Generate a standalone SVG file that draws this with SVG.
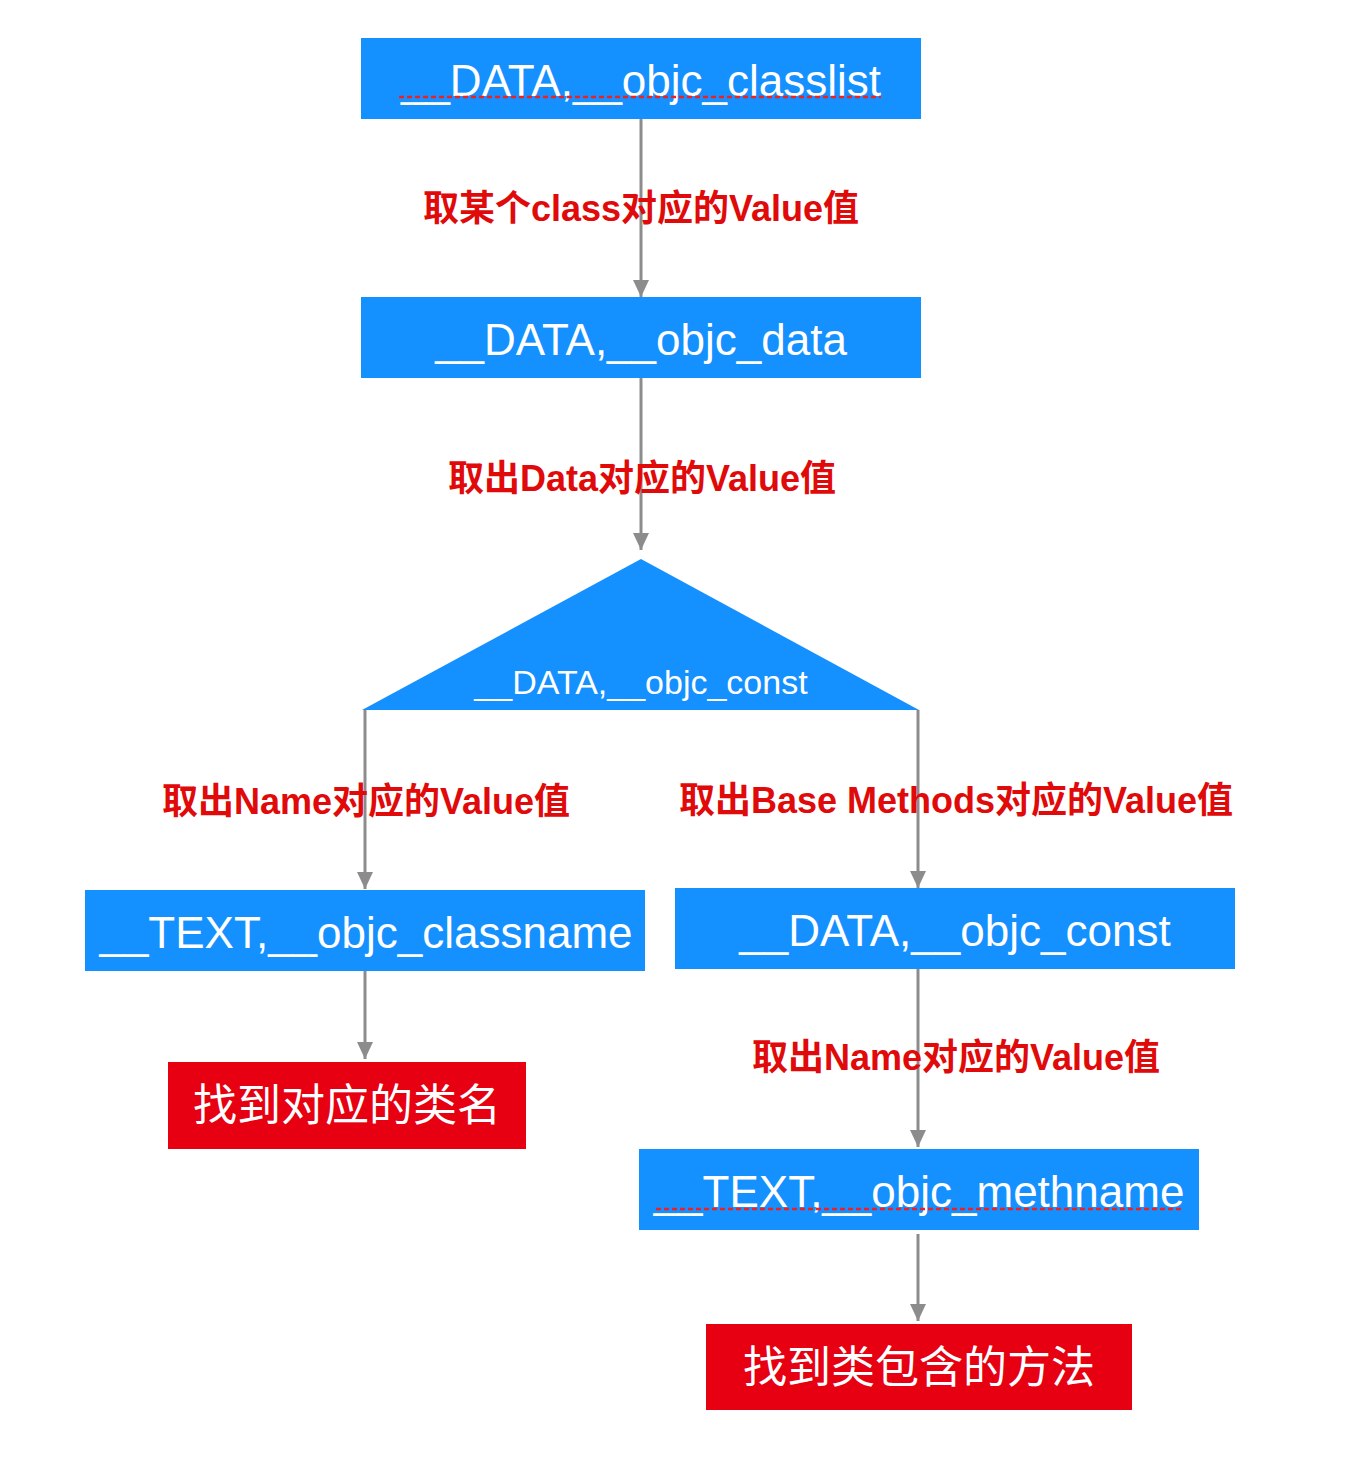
<svg xmlns="http://www.w3.org/2000/svg" width="1346" height="1466" viewBox="0 0 1346 1466">
<style>
.box{fill:#1590FF}
.red{fill:#E60012}
.bt{fill:#fff;font-family:"Liberation Sans",Arial,sans-serif;font-size:44px;text-anchor:middle}
.rt{fill:#fff;font-family:"Noto Sans CJK SC",sans-serif;font-size:44px;text-anchor:middle}
.lbl{fill:#E00A0A;font-family:"Liberation Sans","Noto Sans CJK SC",sans-serif;font-weight:bold;font-size:36px;text-anchor:middle}
.conn line{stroke:#8C8C8C;stroke-width:3;fill:none}
.spell{stroke:#F02020;stroke-width:2.5;stroke-dasharray:5 3}
</style>
<defs>
<marker id="arr" markerUnits="userSpaceOnUse" markerWidth="18" markerHeight="16" refX="17" refY="8" orient="auto" viewBox="0 0 18 16">
<path d="M0,0 L17,8 L0,16 Z" fill="#8C8C8C"/>
</marker>
</defs>
<g class="conn" id="connectors">
<line x1="641" y1="119" x2="641" y2="297" marker-end="url(#arr)"/>
<line x1="641" y1="378" x2="641" y2="550" marker-end="url(#arr)"/>
<line x1="365" y1="710" x2="365" y2="889" marker-end="url(#arr)"/>
<line x1="918" y1="710" x2="918" y2="888" marker-end="url(#arr)"/>
<line x1="365" y1="971" x2="365" y2="1059" marker-end="url(#arr)"/>
<line x1="918" y1="969" x2="918" y2="1147" marker-end="url(#arr)"/>
<line x1="918" y1="1234" x2="918" y2="1321" marker-end="url(#arr)"/>
</g>
<g id="labels">
<text class="lbl" x="641" y="221">取某个class对应的Value值</text>
<text class="lbl" x="642" y="491">取出Data对应的Value值</text>
<text class="lbl" x="366" y="814">取出Name对应的Value值</text>
<text class="lbl" x="956" y="813">取出Base Methods对应的Value值</text>
<text class="lbl" x="956" y="1070">取出Name对应的Value值</text>
</g>
<g id="n1">
<rect class="box" x="361" y="38" width="560" height="81"/>
<text class="bt" x="641" y="96">__DATA,__objc_classlist</text>
<line class="spell" x1="399" y1="97" x2="881" y2="97"/>
</g>
<g id="n2">
<rect class="box" x="361" y="297" width="560" height="81"/>
<text class="bt" x="641" y="355">__DATA,__objc_data</text>
</g>
<g id="n3">
<polygon class="box" points="641,559 919,710 362,710"/>
<text class="bt" x="641" y="694" style="font-size:34px">__DATA,__objc_const</text>
</g>
<g id="n4">
<rect class="box" x="85" y="890" width="560" height="81"/>
<text class="bt" x="366" y="948">__TEXT,__objc_classname</text>
</g>
<g id="n5">
<rect class="box" x="675" y="888" width="560" height="81"/>
<text class="bt" x="955" y="946">__DATA,__objc_const</text>
</g>
<g id="n6">
<rect class="red" x="168" y="1062" width="358" height="87"/>
<text class="rt" x="347" y="1121">找到对应的类名</text>
</g>
<g id="n7">
<rect class="box" x="639" y="1149" width="560" height="81"/>
<text class="bt" x="919" y="1207">__TEXT,__objc_methname</text>
<line class="spell" x1="656" y1="1209" x2="1182" y2="1209"/>
</g>
<g id="n8">
<rect class="red" x="706" y="1324" width="426" height="86"/>
<text class="rt" x="919" y="1383">找到类包含的方法</text>
</g>
</svg>
